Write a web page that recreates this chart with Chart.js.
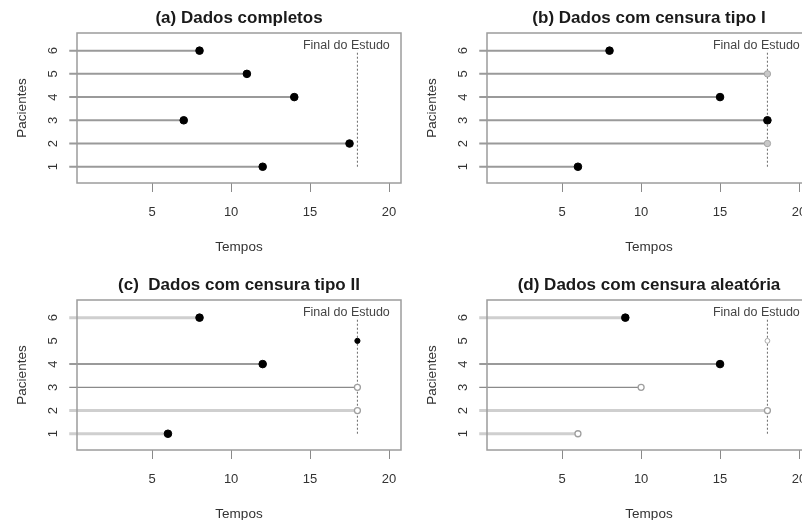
<!DOCTYPE html>
<html>
<head>
<meta charset="utf-8">
<script src="https://cdn.jsdelivr.net/npm/chart.js@4/dist/chart.umd.min.js"></script>
<style>
  html, body { margin: 0; padding: 0; background: #fff; }
  #fig { position: relative; width: 802px; height: 520px; overflow: hidden; background: #fff; }
  #fig canvas { position: absolute; }
</style>
</head>
<body>
<div id="fig">
  <canvas id="panelA" width="410" height="267" style="left:0;top:0"></canvas>
  <canvas id="panelB" width="410" height="267" style="left:410px;top:0"></canvas>
  <canvas id="panelC" width="410" height="267" style="left:0;top:267px"></canvas>
  <canvas id="panelD" width="410" height="267" style="left:410px;top:267px"></canvas>
</div>
<script>
// ---- data ----
const patients = [1, 2, 3, 4, 5, 6];
const timeTicks = [5, 10, 15, 20];
const studyEnd = 18;
const followStart = -0.25;

// (a) complete data
const timesA  = [12, 17.5, 7, 14, 11, 8];
const statusA = [1, 1, 1, 1, 1, 1];
const shownA  = [1, 1, 1, 1, 1, 1];

// (b) type I censoring
const timesB  = [6, 18, 18, 15, 18, 8];
const statusB = [1, 0, 1, 1, 0, 1];
const shownB  = [1, 1, 1, 1, 1, 1];

// (c) type II censoring
const timesC  = [6, 18, 18, 12, 18, 8];
const statusC = [1, 0, 0, 1, 1, 1];
const shownC  = [1, 1, 1, 1, 0, 1];

// (d) random censoring
const timesD  = [6, 18, 10, 15, 18, 9];
const statusD = [0, 0, 0, 1, 0, 1];
const shownD  = [1, 1, 1, 1, 0, 1];

const titles = [
  '(a) Dados completos',
  '(b) Dados com censura tipo I',
  '(c)  Dados com censura tipo II',
  '(d) Dados com censura aleatória'
];
const endLabel = 'Final do Estudo';
const xTitle = 'Tempos';
const yTitle = 'Pacientes';

// ---- styles ----
const FONT = '"Liberation Sans", Arial, Helvetica, sans-serif';
const shadeStyles = {
  light: { color: '#cfcfcf', width: 3 },
  mid:   { color: '#9a9a9a', width: 2 },
  dark:  { color: '#8a8a8a', width: 1.3 }
};
const markerStyles = {
  event:      { r: 3.8, fill: '#000000', stroke: '#000000', w: 1 },
  eventSmall: { r: 2.6, fill: '#000000', stroke: '#000000', w: 1 },
  censFilled: { r: 3.2, fill: '#c8c8c8', stroke: '#a5a5a5', w: 1 },
  censOpen:   { r: 3.0, fill: '#ffffff', stroke: '#9f9f9f', w: 1.3 },
  censSmall:  { r: 2.4, fill: '#ffffff', stroke: '#a8a8a8', w: 1 }
};

const panels = [
  { id: 'panelA', title: titles[0], times: timesA, status: statusA, shown: shownA,
    shades: ['mid', 'mid', 'mid', 'mid', 'mid', 'mid'], censor: 'censFilled' },
  { id: 'panelB', title: titles[1], times: timesB, status: statusB, shown: shownB,
    shades: ['mid', 'mid', 'mid', 'mid', 'mid', 'mid'], censor: 'censFilled' },
  { id: 'panelC', title: titles[2], times: timesC, status: statusC, shown: shownC,
    shades: ['light', 'light', 'dark', 'mid', 'mid', 'light'], censor: 'censOpen' },
  { id: 'panelD', title: titles[3], times: timesD, status: statusD, shown: shownD,
    shades: ['light', 'light', 'dark', 'mid', 'mid', 'light'], censor: 'censOpen' }
];

// frame around the plotting region, rotated patient labels and the study-end note
const framePlugin = {
  id: 'frameAndNote',
  afterDatasetsDraw(chart) {
    const { ctx, chartArea: a, scales } = chart;
    ctx.save();
    ctx.strokeStyle = '#9c9c9c';
    ctx.lineWidth = 1.5;
    ctx.strokeRect(a.left, a.top, a.right - a.left, a.bottom - a.top);

    // patient numbers, written along the axis (read bottom to top)
    ctx.fillStyle = '#333';
    ctx.font = '13px ' + FONT;
    ctx.textAlign = 'center';
    ctx.textBaseline = 'middle';
    scales.y.ticks.forEach(t => {
      ctx.save();
      ctx.translate(a.left - 24, scales.y.getPixelForValue(t.value));
      ctx.rotate(-Math.PI / 2);
      ctx.fillText(String(t.value), 0, 0);
      ctx.restore();
    });

    ctx.fillStyle = '#444';
    ctx.font = '12.5px ' + FONT;
    ctx.fillText(endLabel, scales.x.getPixelForValue(17.3), scales.y.getPixelForValue(6.2));
    ctx.restore();
  }
};

function buildPanel(p) {
  const datasets = [];

  // event / censoring markers
  const kinds = patients.map((_, i) => {
    const small = !p.shown[i];
    if (p.status[i] === 1) return small ? 'eventSmall' : 'event';
    return small ? 'censSmall' : p.censor;
  });
  datasets.push({
    type: 'scatter',
    order: 0,
    clip: false,
    data: patients.map((y, i) => ({ x: p.times[i], y })),
    pointStyle: 'circle',
    pointRadius: kinds.map(k => markerStyles[k].r),
    pointBackgroundColor: kinds.map(k => markerStyles[k].fill),
    pointBorderColor: kinds.map(k => markerStyles[k].stroke),
    pointBorderWidth: kinds.map(k => markerStyles[k].w),
    showLine: false
  });

  // end of study reference line
  datasets.push({
    type: 'scatter',
    order: 1,
    data: [{ x: studyEnd, y: patients[0] }, { x: studyEnd, y: patients[patients.length - 1] }],
    showLine: true,
    borderColor: '#6a6a6a',
    borderWidth: 1,
    borderDash: [2, 2],
    pointRadius: 0
  });

  // follow-up lines, one per patient
  patients.forEach((y, i) => {
    if (!p.shown[i]) return;
    const s = shadeStyles[p.shades[i]];
    datasets.push({
      type: 'scatter',
      order: 2,
      clip: false,
      data: [{ x: followStart, y }, { x: p.times[i], y }],
      showLine: true,
      borderColor: s.color,
      borderWidth: s.width,
      pointRadius: 0
    });
  });

  new Chart(document.getElementById(p.id), {
    type: 'scatter',
    data: { datasets },
    plugins: [framePlugin],
    options: {
      responsive: false,
      animation: false,
      events: [],
      layout: { padding: { top: 0, right: 9, bottom: 0, left: 0 } },
      plugins: {
        legend: { display: false },
        tooltip: { enabled: false },
        title: {
          display: true,
          fullSize: false,
          text: p.title,
          color: '#1a1a1a',
          font: { family: FONT, size: 17, weight: 'bold', lineHeight: 1.2 },
          padding: { top: 8, bottom: 4.6 }
        }
      },
      scales: {
        x: {
          type: 'linear',
          min: 0.24,
          max: 20.76,
          afterBuildTicks: s => { s.ticks = timeTicks.map(v => ({ value: v })); },
          afterFit: s => { s.height = 84; },
          border: { display: false },
          grid: { display: true, drawOnChartArea: false, drawTicks: true, tickLength: 9,
                  color: '#8a8a8a', lineWidth: 1 },
          ticks: { color: '#333', font: { family: FONT, size: 13 }, padding: 13,
                   maxRotation: 0, minRotation: 0 },
          title: { display: true, text: xTitle, color: '#333',
                   font: { family: FONT, size: 13.5 }, padding: { top: 0, bottom: 12 } }
        },
        y: {
          type: 'linear',
          min: 0.3,
          max: 6.76,
          afterBuildTicks: s => { s.ticks = patients.map(v => ({ value: v })); },
          afterFit: s => { s.width = 77; },
          border: { display: false },
          grid: { display: false },
          ticks: { display: false },
          title: { display: true, text: yTitle, color: '#333',
                   font: { family: FONT, size: 13.5 }, padding: { top: 14, bottom: 0 } }
        }
      }
    }
  });
}

panels.forEach(buildPanel);
</script>
</body>
</html>
